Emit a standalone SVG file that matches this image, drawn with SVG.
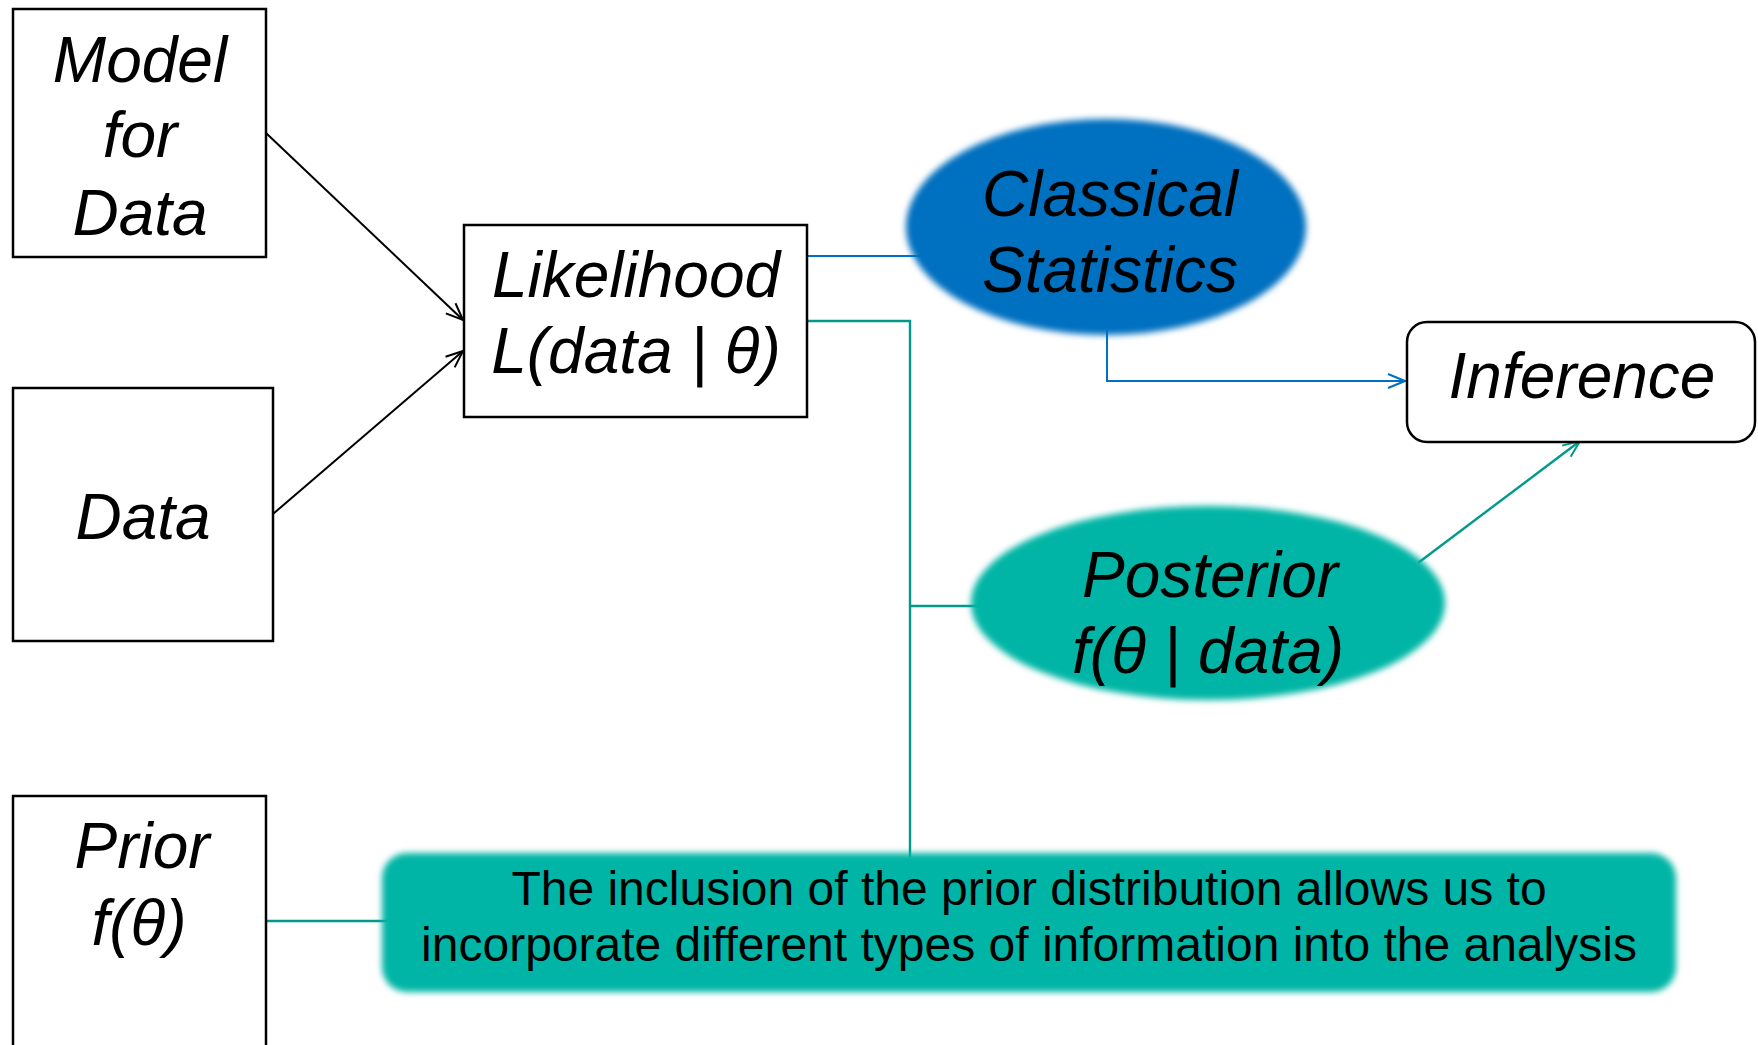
<svg xmlns="http://www.w3.org/2000/svg" width="1758" height="1045" viewBox="0 0 1758 1045">
<style>
.box{fill:#fff;stroke:#000;stroke-width:2.5}
.t{font-family:"Liberation Sans",Arial,sans-serif;font-style:italic;font-size:64px;fill:#000;text-anchor:middle}
.n{font-family:"Liberation Sans",Arial,sans-serif;font-size:48px;fill:#000;text-anchor:middle}
.k{fill:none;stroke:#000;stroke-width:2}
.b{fill:none;stroke:#0070C0;stroke-width:2}
.g{fill:none;stroke:#00998A;stroke-width:2.4}
</style>
<defs>
<filter id="soft" x="-5%" y="-10%" width="110%" height="120%"><feGaussianBlur stdDeviation="3"/></filter>
<marker id="ak" viewBox="0 0 20 20" refX="19" refY="10" markerWidth="20" markerHeight="20" orient="auto" markerUnits="userSpaceOnUse"><path d="M2,3 L19,10 L2,17" fill="none" stroke="#000" stroke-width="2"/></marker>
<marker id="ab" viewBox="0 0 20 20" refX="19" refY="10" markerWidth="20" markerHeight="20" orient="auto" markerUnits="userSpaceOnUse"><path d="M2,3 L19,10 L2,17" fill="none" stroke="#0070C0" stroke-width="2"/></marker>
<marker id="ag" viewBox="0 0 20 20" refX="19" refY="10" markerWidth="20" markerHeight="20" orient="auto" markerUnits="userSpaceOnUse"><path d="M2,3 L19,10 L2,17" fill="none" stroke="#00998A" stroke-width="2"/></marker>
</defs>
<rect width="1758" height="1045" fill="#fff"/>
<g id="connectors">
<line class="k" x1="266" y1="133" x2="463" y2="320" marker-end="url(#ak)"/>
<line class="k" x1="273" y1="514" x2="463" y2="351" marker-end="url(#ak)"/>
<line class="b" x1="807" y1="256" x2="925" y2="256"/>
<path class="g" d="M807,321 H910 V857"/>
<line class="g" x1="910" y1="606" x2="980" y2="606"/>
<line class="g" x1="266" y1="921" x2="390" y2="921"/>
<path class="b" d="M1107,330 V381 H1405" marker-end="url(#ab)"/>
<line class="g" x1="1418" y1="563" x2="1580" y2="441" marker-end="url(#ag)"/>
</g>
<g id="model">
<rect class="box" x="13" y="9" width="253" height="248"/>
<text class="t" x="140" y="82">Model</text>
<text class="t" x="140" y="157">for</text>
<text class="t" x="140" y="235">Data</text>
</g>
<g id="data">
<rect class="box" x="13" y="388" width="260" height="253"/>
<text class="t" x="143" y="539">Data</text>
</g>
<g id="likelihood">
<rect class="box" x="464" y="225" width="343" height="192"/>
<text class="t" x="636" y="297">Likelihood</text>
<text class="t" x="636" y="373">L(data | θ)</text>
</g>
<g id="classical">
<ellipse cx="1106" cy="227" rx="200" ry="108" fill="#0070C0" filter="url(#soft)"/>
<text class="t" x="1110" y="216">Classical</text>
<text class="t" x="1110" y="292">Statistics</text>
</g>
<g id="inference">
<rect class="box" x="1407" y="322" width="348" height="120" rx="20"/>
<text class="t" x="1582" y="398">Inference</text>
</g>
<g id="posterior">
<ellipse cx="1208" cy="603" rx="237" ry="97" fill="#00B5A5" filter="url(#soft)"/>
<text class="t" x="1210" y="597">Posterior</text>
<text class="t" x="1208" y="673">f(θ | data)</text>
</g>
<g id="prior">
<rect class="box" x="13" y="796" width="253" height="260"/>
<text class="t" x="142" y="868">Prior</text>
<text class="t" x="139" y="945">f(θ)</text>
</g>
<g id="note">
<rect x="382" y="853" width="1294" height="139" rx="25" fill="#00B5A5" filter="url(#soft)"/>
<text class="n" x="1029" y="905">The inclusion of the prior distribution allows us to</text>
<text class="n" x="1029" y="961">incorporate different types of information into the analysis</text>
</g>
</svg>
